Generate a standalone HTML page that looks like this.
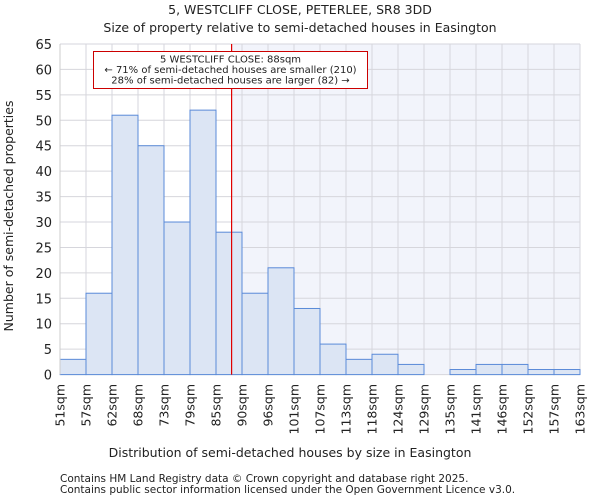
<!DOCTYPE html>
<html><head><meta charset="utf-8"><style>
body{margin:0;background:#fff;font-family:"DejaVu Sans","Liberation Sans",sans-serif;}
svg text{font-family:"DejaVu Sans","Liberation Sans",sans-serif;fill:#222;}
</style></head><body>
<svg id="chart" width="600" height="500" xmlns="http://www.w3.org/2000/svg">
<text x="300" y="14" text-anchor="middle" font-size="12.5">5, WESTCLIFF CLOSE, PETERLEE, SR8 3DD</text>
<text x="300" y="32" text-anchor="middle" font-size="12.5">Size of property relative to semi-detached houses in Easington</text>
<g id="plot"></g>
<text x="290" y="457" text-anchor="middle" font-size="12.5">Distribution of semi-detached houses by size in Easington</text>
<text transform="translate(13,216) rotate(-90)" text-anchor="middle" font-size="12.5">Number of semi-detached properties</text>
<text x="60" y="482" font-size="10.5" fill="#444">Contains HM Land Registry data © Crown copyright and database right 2025.</text>
<text x="60" y="493" font-size="10.5" fill="#444">Contains public sector information licensed under the Open Government Licence v3.0.</text>
</svg>
<script>
const edges=[51,57,62,68,73,79,85,90,96,101,107,113,118,124,129,135,141,146,152,157,163];
const counts=[3,16,51,45,30,52,28,16,21,13,6,3,4,2,0,1,2,2,1,1];
const yTicks=[0,5,10,15,20,25,30,35,40,45,50,55,60,65];
const propertySize=88;
const ns="http://www.w3.org/2000/svg";
const L=60,R=580,T=44,B=374.6,yMax=65;
const bw=(R-L)/counts.length;
const xi=i=>L+i*bw;
const y=v=>B-(v/yMax)*(B-T);
function xv(v){for(let i=0;i<edges.length-1;i++){if(v>=edges[i]&&v<=edges[i+1])return xi(i)+(v-edges[i])/(edges[i+1]-edges[i])*bw;}return R;}
const g=document.getElementById('plot');
function mk(t,a){const e=document.createElementNS(ns,t);for(const k in a)e.setAttribute(k,a[k]);g.appendChild(e);return e;}
const px=xv(propertySize);
let e=mk('rect',{x:px,y:T,width:R-px,height:B-T,fill:'#f2f4fb'});


yTicks.forEach(t=>{
 let l=mk('line',{x1:L,x2:R,y1:y(t),y2:y(t),stroke:'#d6d6dc','stroke-width':1});
 
 
 let tx=mk('text',{x:L-8,y:y(t)+5,'text-anchor':'end','font-size':13});
 tx.textContent=t;
 
 
});
edges.forEach((v,i)=>{
 let l=mk('line',{x1:xi(i),x2:xi(i),y1:T,y2:B,stroke:'#d6d6dc','stroke-width':1});
 
 
 let tx=mk('text',{transform:`translate(${xi(i)+4.5},384) rotate(-90)`,'text-anchor':'end','font-size':12.5});
 tx.textContent=v+'sqm';
 
 
});
counts.forEach((c,i)=>{
 let r=mk('rect',{x:xi(i),y:y(c),width:bw,height:B-y(c),fill:'#dce5f4',stroke:'#5a8ad8','stroke-width':1});
 
 
});
let ax=mk('line',{x1:L,x2:L,y1:T,y2:B,stroke:'#ccc'});


let rl=mk('line',{x1:px,x2:px,y1:T,y2:B,stroke:'#e00000','stroke-width':1.2});


let box=mk('rect',{x:93.5,y:51.5,width:274,height:37,fill:'#fff',stroke:'#c00','stroke-width':1});


["5 WESTCLIFF CLOSE: 88sqm","← 71% of semi-detached houses are smaller (210)","28% of semi-detached houses are larger (82) →"].forEach((s,i)=>{
 let t=mk('text',{x:230.5,y:62.5+i*10.5,'text-anchor':'middle','font-size':10});
 t.textContent=s;
 
 
});
</script>
</body></html>
